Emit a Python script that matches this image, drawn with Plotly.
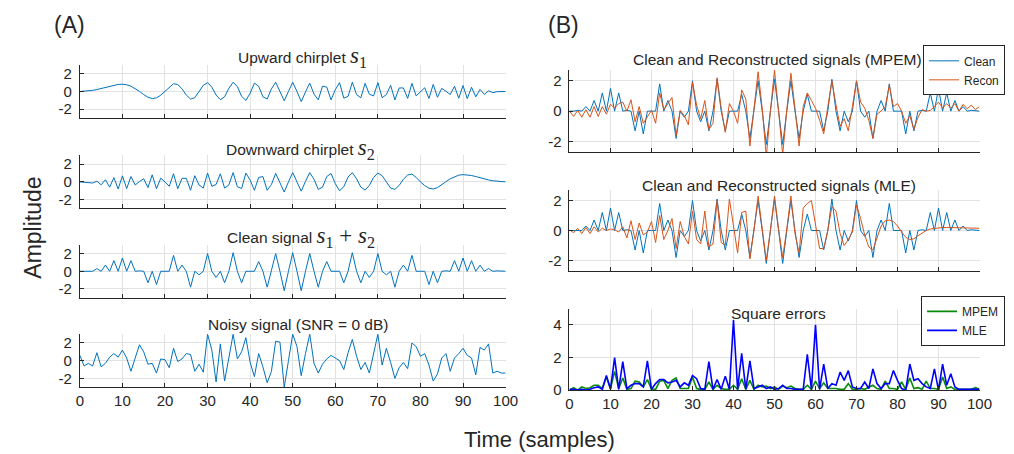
import plotly.graph_objects as go

W, H = 1014, 454

samples = list(range(101))

s1 = [0.0, 0.03, 0.07, 0.13, 0.22, 0.33, 0.46, 0.6, 0.72, 0.8,
      0.82, 0.76, 0.6, 0.35, 0.02, -0.35, -0.65, -0.8, -0.72, -0.42,
      0.0, 0.5, 0.88, 0.78, 0.3, -0.4, -0.85, -0.7, -0.05, 0.7,
      1.0, 0.5, -0.4, -0.92, -0.6, 0.35, 1.05, 0.55, -0.55, -1.0,
      -0.2, 0.95, 0.6, -0.6, -0.85, 0.3, 1.05, 0.05, -1.05, 0.0,
      1.05, 0.0, -1.15, -0.05, 0.95, -0.3, -0.95, 0.6, 0.5, -0.95,
      0.2, 1.0, -0.75, -0.55, 1.05, -0.35, -0.7, 0.92, -0.3, -0.5,
      1.0, -0.7, -0.35, 0.7, -0.95, 0.4, 0.4, -0.78, 0.92, -0.5,
      0.0, 0.42, -0.78, 0.8, -0.65, 0.35, 0.03, -0.35, 0.6, -0.76,
      0.68, -0.8, 0.48, -0.6, 0.24, -0.33, 0.08, -0.13, -0.02, -0.03,
      0.0]

s2 = [0.0, -0.03, -0.02, -0.13, 0.08, -0.33, 0.24, -0.6, 0.48, -0.8,
      0.68, -0.76, 0.6, -0.35, 0.03, 0.35, -0.65, 0.8, -0.78, 0.42,
      0.0, -0.5, 0.92, -0.78, 0.4, 0.4, -0.95, 0.7, -0.35, -0.7,
      1.0, -0.5, -0.3, 0.92, -0.7, -0.35, 1.05, -0.55, -0.75, 1.0,
      0.2, -0.95, 0.5, 0.6, -0.95, -0.3, 0.95, -0.05, -1.15, 0.0,
      1.05, 0.0, -1.05, 0.05, 1.05, 0.3, -0.85, -0.6, 0.6, 0.95,
      -0.2, -1.0, -0.55, 0.55, 1.05, 0.35, -0.6, -0.92, -0.4, 0.5,
      1.0, 0.7, -0.05, -0.7, -0.85, -0.4, 0.3, 0.78, 0.88, 0.5,
      0.0, -0.42, -0.72, -0.8, -0.65, -0.35, 0.02, 0.35, 0.6, 0.76,
      0.82, 0.8, 0.72, 0.6, 0.46, 0.33, 0.22, 0.13, 0.07, 0.03,
      0.0]

clean = [0.0, 0.0, 0.05, 0.0, 0.3, 0.0, 0.7, 0.0, 1.2, 0.0,
         1.5, 0.0, 1.2, 0.0, 0.05, 0.0, -1.3, 0.0, -1.5, 0.0,
         0.0, 0.0, 1.8, 0.0, 0.7, 0.0, -1.8, 0.0, -0.4, 0.0,
         2.0, 0.0, -0.7, 0.0, -1.3, 0.0, 2.1, 0.0, -1.3, 0.0,
         0.0, 0.0, 1.1, 0.0, -1.8, 0.0, 2.0, 0.0, -2.2, 0.0,
         2.1, 0.0, -2.2, 0.0, 2.0, 0.0, -1.8, 0.0, 1.1, 0.0,
         0.0, 0.0, -1.3, 0.0, 2.1, 0.0, -1.3, 0.0, -0.7, 0.0,
         2.0, 0.0, -0.4, 0.0, -1.8, 0.0, 0.7, 0.0, 1.8, 0.0,
         0.0, 0.0, -1.5, 0.0, -1.3, 0.0, 0.05, 0.0, 1.2, 0.0,
         1.5, 0.0, 1.2, 0.0, 0.7, 0.0, 0.3, 0.0, 0.05, 0.0,
         0.0]

noisy = [0.6, -0.6, -0.3, -0.6, 0.9, -0.7, -0.3, 0.4, 0.8, 0.4,
         1.2, 0.3, -1.2, 0.2, 1.8, 1.0, -0.4, -0.3, -1.4, 0.2,
         0.1, -0.8, 1.4, -0.1, 0.2, 0.8, 0.7, -1.2, -0.4, -1.3,
         3.0, 1.2, -2.4, 1.9, -2.3, 0.3, 3.0, 0.2, 1.0, 2.6,
         -0.2, -1.8, 0.8, -0.7, -2.5, -1.2, 2.2, 2.1, -3.0, 0.0,
         3.0, 1.6, -1.7, 0.8, 3.0, -0.3, -1.4, -0.4, 0.2, 0.6,
         0.3, 0.0, -1.0, 0.9, 2.4, 0.5, -1.0, -0.2, -1.4, 0.8,
         3.0, -0.5, 1.4, -0.2, -2.0, -0.8, -0.2, -0.9, 2.0, 1.6,
         0.5, 0.8, -0.5, -2.3, -1.5, 0.3, 0.8, -1.2, 0.3, 0.8,
         1.4, 0.6, 0.3, -1.6, 1.5, 1.2, 1.9, -1.4, -1.2, -1.4,
         -1.4]

recon_mpem = [0.0, -0.35, 0.05, -0.4, 0.1, -0.4, 0.3, -0.35, 0.3, -0.2,
              0.45, 0.2, 0.5, 0.6, 0.0, 0.75, -0.7, 0.3, -0.8, -0.4,
              0.05, -0.8, 1.2, 0.1, 0.5, 0.9, -1.6, 0.05, -0.3, -0.9,
              1.9, 0.4, -0.5, 0.7, -1.2, -0.8, 2.2, 0.2, -1.4, 0.5,
              0.0, -0.8, 1.4, 0.8, -2.3, 0.0, 2.6, 0.2, -3.0, 0.0,
              2.7, 0.0, -2.9, 0.1, 2.5, 0.2, -2.3, 0.3, 1.2, 0.7,
              0.2, -0.6, -1.5, 0.3, 2.0, 0.4, -1.0, -0.5, -1.3, 0.3,
              2.0, 0.6, 0.2, -0.6, -1.8, -0.2, 0.0, 0.3, 1.7, 0.3,
              0.5, 0.0, -0.8, -0.3, -1.2, -0.4, 0.1, 0.0, 0.05, 0.3,
              0.6, 0.2, 0.5, 0.2, 0.5, 0.0, 0.45, 0.15, 0.4, 0.1,
              0.3]

recon_mle = [0.05, -0.15, 0.15, -0.2, 0.2, -0.2, 0.25, -0.1, 0.15, 0.0,
             0.1, 0.05, -0.1, 0.25, -0.5, 0.65, -0.6, 0.5, -0.3, -0.1,
             0.6, -0.8, 1.0, -0.6, 0.0, 0.8, -1.2, 0.6, -0.4, -0.9,
             1.3, -0.6, -0.9, 1.3, -1.1, -0.9, 2.0, -0.8, -1.0, 2.1,
             0.3, -1.5, 1.2, 1.3, -1.9, 0.0, 2.3, 0.0, -2.0, 0.0,
             2.3, 0.1, -1.8, 0.1, 2.3, -0.2, -1.5, 1.5, 1.8, 2.0,
             0.5, -1.2, -1.2, 0.0, 1.6, 1.3, -0.2, -1.0, -0.6, -0.1,
             1.7, 0.8, -0.3, -1.1, -1.3, -0.5, 0.3, 0.65, 0.7, 0.6,
             0.3, -0.1, -0.45, -0.6, -0.55, -0.35, -0.15, 0.0, 0.1, 0.15,
             0.2, 0.2, 0.2, 0.2, 0.2, 0.2, 0.2, 0.2, 0.18, 0.17,
             0.15]

err_mpem = [0.0, 0.15, 0.0, 0.2, 0.1, 0.15, 0.3, 0.3, 0.1, 0.8,
            0.1, 1.15, 0.1, 0.75, 0.05, 0.1, 0.55, 0.5, 0.2, 0.65,
            0.05, 0.05, 0.55, 0.6, 0.1, 0.6, 0.75, 0.1, 0.1, 0.1,
            0.8, 0.1, 0.05, 0.05, 0.5, 0.05, 0.3, 0.1, 0.05, 0.05,
            0.3, 0.05, 0.7, 0.05, 0.6, 0.05, 0.3, 0.2, 0.25, 0.1,
            0.2, 0.05, 0.25, 0.15, 0.25, 0.1, 0.05, 0.05, 0.3, 0.05,
            0.55, 0.1, 0.45, 0.1, 0.1, 0.1, 0.05, 0.05, 0.4, 0.05,
            0.05, 0.1, 0.05, 0.2, 0.3, 0.1, 0.05, 0.55, 0.1, 0.1,
            0.05, 0.5, 0.05, 0.75, 0.1, 0.15, 0.05, 0.55, 0.1, 0.1,
            0.05, 0.8, 0.1, 0.2, 0.05, 0.05, 0.05, 0.05, 0.05, 0.15,
            0.05]

err_mle = [0.05, 0.05, 0.0, 0.05, 0.0, 0.05, 0.15, 0.2, 0.05, 0.9,
           0.05, 2.0, 0.05, 1.75, 0.1, 0.3, 0.4, 0.4, 0.2, 1.8,
           0.05, 0.4, 0.65, 0.65, 0.45, 0.5, 0.6, 0.2, 0.45, 0.3,
           0.9, 0.7, 0.1, 0.05, 1.75, 0.05, 0.65, 0.05, 0.85, 0.05,
           4.3, 0.05, 2.25, 0.05, 1.8, 0.1, 0.2, 0.3, 0.1, 0.2,
           0.05, 0.1, 0.3, 0.1, 0.1, 0.05, 0.05, 0.05, 2.2, 0.05,
           4.0, 0.05, 1.6, 0.1, 0.4, 0.3, 1.1, 0.6, 1.2, 0.2,
           0.1, 0.1, 0.5, 0.1, 1.3, 0.4, 0.1, 0.4, 0.4, 1.2,
           0.6, 0.1, 0.0, 1.6, 0.6, 0.7, 0.4, 0.2, 0.1, 1.3,
           0.0, 1.6, 0.3, 1.0, 0.2, 0.05, 0.05, 0.05, 0.05, 0.05,
           0.05]

x_ticks = list(range(0, 101, 10))
amp_ticks = [-2, 0, 2]
amp_labels = ["-2", "0", "2"]
err_ticks = [0, 2, 4]
err_labels = ["0", "2", "4"]

BLUE = "#0072BD"
ORANGE = "#D95319"
GREEN = "#0a8a0a"
PBLUE = "#0000FF"
TXT = "#262626"
GRID = "#e2e2e2"
FONT = "Liberation Sans"
SERIF = "Liberation Serif"


def px(x):
    return x / W


def py(y):
    return 1 - y / H


fig = go.Figure()

LX = (69, 502)
RX = (567, 984)
panels = {
    1: (LX, (58, 112), [-3, 3], amp_ticks, amp_labels, False),
    2: (LX, (150, 204), [-3, 3], amp_ticks, amp_labels, False),
    3: (LX, (241, 295), [-3, 3], amp_ticks, amp_labels, False),
    4: (LX, (332, 386), [-3, 3], amp_ticks, amp_labels, True),
    5: (RX, (63, 147), [-2.72, 2.72], amp_ticks, amp_labels, False),
    6: (RX, (185, 268), [-2.72, 2.72], amp_ticks, amp_labels, False),
    7: (RX, (306, 389), [0, 5], err_ticks, err_labels, True),
}

tickfont = dict(family=FONT, size=15, color=TXT)
for i, (xr, yr, rng, yt, yl, showx) in panels.items():
    sfx = "" if i == 1 else str(i)
    fig.layout["xaxis" + sfx] = dict(
        domain=[px(xr[0]), px(xr[1])], range=[0, 100], anchor="y" + sfx,
        tickvals=x_ticks, ticks="inside", ticklen=4, tickcolor=TXT,
        showline=True, linecolor=TXT, linewidth=1,
        showgrid=True, gridcolor=GRID, gridwidth=1, zeroline=False,
        showticklabels=showx, tickfont=tickfont)
    fig.layout["yaxis" + sfx] = dict(
        domain=[py(yr[1]), py(yr[0])], range=rng, anchor="x" + sfx,
        tickvals=yt, ticktext=yl, ticks="inside", ticklen=4, tickcolor=TXT,
        showline=True, linecolor=TXT, linewidth=1,
        showgrid=True, gridcolor=GRID, gridwidth=1, zeroline=False,
        tickfont=tickfont, ticklabelstandoff=4)


def add(y, i, color, width=1.0, name=None, legend=None):
    sfx = "" if i == 1 else str(i)
    fig.add_trace(go.Scatter(
        x=samples, y=y, mode="lines", xaxis="x" + sfx, yaxis="y" + sfx,
        line=dict(color=color, width=width),
        name=name or "", showlegend=legend is not None,
        legend=legend or "legend", hoverinfo="skip"))


add(s1, 1, BLUE)
add(s2, 2, BLUE)
add(clean, 3, BLUE)
add(noisy, 4, BLUE)
add(clean, 5, BLUE, name="Clean", legend="legend")
add(recon_mpem, 5, ORANGE, name="Recon", legend="legend")
add(clean, 6, BLUE)
add(recon_mle, 6, ORANGE)
add(err_mpem, 7, GREEN, width=1.6, name="MPEM", legend="legend2")
add(err_mle, 7, PBLUE, width=1.6, name="MLE", legend="legend2")


def math(s):
    return '<span style="font-family:\'%s\';font-size:23px">%s</span>' % (SERIF, s)


s1m = "<i>s</i><sub>1</sub>"
s2m = "<i>s</i><sub>2</sub>"

titles = [
    ("Upward chirplet " + math(s1m), 295, 50),
    ("Downward chirplet " + math(s2m), 293, 144),
    ("Clean signal " + math(s1m + " + " + s2m), 294, 233),
    ("Noisy signal (SNR = 0 dB)", 291, 322),
    ("Clean and Reconstructed signals (MPEM)", 779, 52),
    ("Clean and Reconstructed signals (MLE)", 780, 181),
    ("Square errors", 780, 311),
]
for text, x, y in titles:
    fig.add_annotation(text=text, x=px(x), y=py(y), xref="paper", yref="paper",
                       xanchor="center", yanchor="middle", showarrow=False,
                       font=dict(family=FONT, size=15.5, color=TXT))

for text, x, y in [("(A)", 41, 17), ("(B)", 543, 17)]:
    fig.add_annotation(text=text, x=px(x), y=py(y), xref="paper", yref="paper",
                       xanchor="left", yanchor="middle", showarrow=False,
                       font=dict(family=FONT, size=23, color=TXT))

fig.add_annotation(text="Amplitude", x=px(21), y=py(224), xref="paper", yref="paper",
                   xanchor="center", yanchor="middle", showarrow=False, textangle=-90,
                   font=dict(family=FONT, size=23, color=TXT))
fig.add_annotation(text="Time (samples)", x=px(537), y=py(439), xref="paper", yref="paper",
                   xanchor="center", yanchor="middle", showarrow=False,
                   font=dict(family=FONT, size=22, color=TXT))

legend_style = dict(xanchor="right", yanchor="top", bgcolor="white",
                    bordercolor=TXT, borderwidth=1,
                    font=dict(family=FONT, size=12, color=TXT),
                    itemwidth=30, tracegroupgap=0)
fig.update_layout(
    width=W, height=H, margin=dict(l=0, r=0, t=0, b=0),
    paper_bgcolor="white", plot_bgcolor="white",
    legend=dict(x=px(1010), y=py(38), **legend_style),
    legend2=dict(x=px(1010), y=py(293), **legend_style),
    font=dict(family=FONT, color=TXT),
)

fig.write_html("out.html")
